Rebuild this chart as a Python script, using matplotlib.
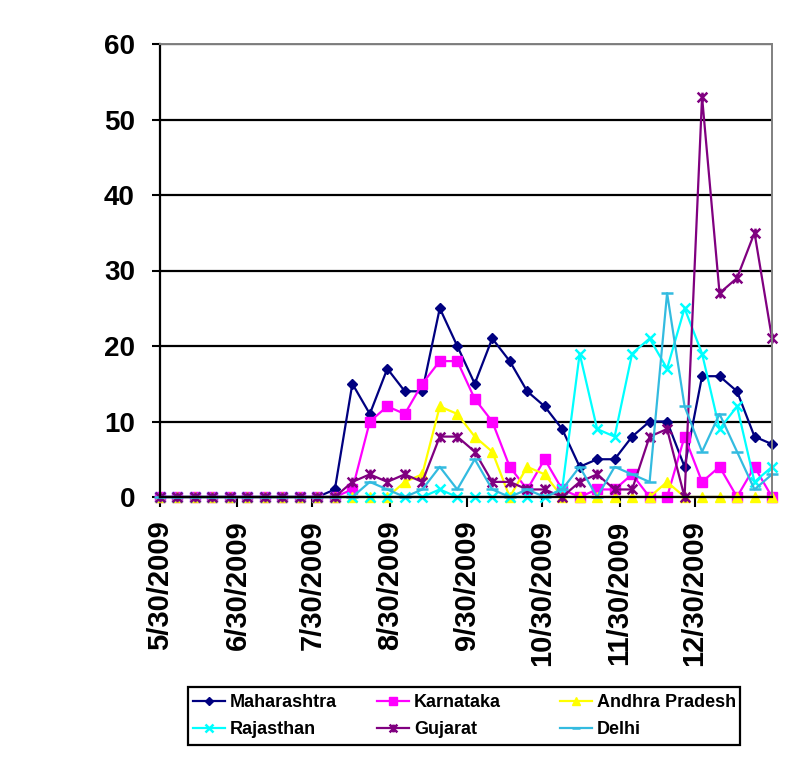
import datetime as dt
import matplotlib
matplotlib.use("Agg")
import matplotlib.pyplot as plt
from matplotlib.path import Path
from matplotlib.patches import Rectangle
import pandas as pd

plt.rcParams['font.family'] = ['Liberation Sans', 'DejaVu Sans']

# weekly reporting dates
dates = pd.date_range("2009-05-30", periods=36, freq="7D")

maharashtra = [0] * 10 + [1, 15, 11, 17, 14, 14, 25, 20, 15, 21, 18, 14, 12, 9, 4, 5, 5, 8, 10, 10, 4, 16, 16, 14, 8, 7]
karnataka = [0] * 10 + [0, 1, 10, 12, 11, 15, 18, 18, 13, 10, 4, 1, 5, 1, 0, 1, 1, 3, 0, 0, 8, 2, 4, 0, 4, 0]
andhra = [0] * 10 + [0, 0, 0, 0, 2, 3, 12, 11, 8, 6, 0, 4, 3, 0, 0, 0, 0, 0, 0, 2, 0, 0, 0, 0, 0, 0]
rajasthan = [0] * 10 + [0, 0, 0, 0, 0, 0, 1, 0, 0, 0, 0, 0, 0, 1, 19, 9, 8, 19, 21, 17, 25, 19, 9, 12, 2, 4]
gujarat = [0] * 10 + [0, 2, 3, 2, 3, 2, 8, 8, 6, 2, 2, 1, 1, 0, 2, 3, 1, 1, 8, 9, 0, 53, 27, 29, 35, 21]
delhi = [0] * 10 + [0, 0, 2, 1, 0, 1, 4, 1, 5, 1, 0, 1, 0, 1, 4, 0, 4, 3, 2, 27, 12, 6, 11, 6, 1, 3]

tick_dates = [dt.datetime(2009, m, 30) for m in range(5, 13)]
tick_labels = [f"{d.month}/{d.day}/{d.year}" for d in tick_dates]

# Excel style "star" marker: an x with a vertical bar through it
star = Path([(-1, -1), (1, 1), (-1, 1), (1, -1), (0, -1), (0, 1)],
            [Path.MOVETO, Path.LINETO, Path.MOVETO, Path.LINETO, Path.MOVETO, Path.LINETO])

series = [
    ("Maharashtra", maharashtra, "#000080", "D", 5.5),
    ("Karnataka", karnataka, "#FF00FF", "s", 6.5),
    ("Andhra Pradesh", andhra, "#FFFF00", "^", 7),
    ("Rajasthan", rajasthan, "#00FFFF", "x", 7),
    ("Gujarat", gujarat, "#800080", star, 7),
    ("Delhi", delhi, "#33BBE0", "_", 8),
]

W, H = 791, 777
fig = plt.figure(figsize=(W / 100, H / 100), dpi=100)
ax = fig.add_axes([160 / W, 1 - 497 / H, 612 / W, 453 / H])

lines = {}
for name, vals, col, mk, ms in series:
    thin = isinstance(mk, str) and mk in ("D", "s", "^")
    ln, = ax.plot(dates, vals, color=col, marker=mk, markersize=ms, linewidth=1.6,
                  markeredgewidth=1 if thin else 1.8,
                  markeredgecolor=col, markerfacecolor=col, label=name, clip_on=False)
    lines[name] = ln

ax.set_xlim(dt.datetime(2009, 5, 30), dt.datetime(2010, 1, 30))
ax.set_ylim(0, 60)
ax.set_yticks(range(0, 61, 10))
ax.set_xticks(tick_dates)
ax.set_xticklabels(tick_labels, rotation=90, fontsize=21, fontweight="bold")
for lab in ax.get_yticklabels():
    lab.set_fontsize(20)
    lab.set_fontweight("bold")

ax.yaxis.grid(True, color="black", linewidth=1.6)
ax.set_axisbelow(True)
ax.tick_params(axis="y", direction="out", length=6, width=1.5, pad=12)
ax.tick_params(axis="x", direction="out", length=7, width=1.5, pad=10)

ax.spines["left"].set_color("black")
ax.spines["left"].set_linewidth(1.6)
ax.spines["bottom"].set_color("black")
ax.spines["bottom"].set_linewidth(1.6)
ax.spines["top"].set_color("#808080")
ax.spines["top"].set_linewidth(1.4)
ax.spines["right"].set_color("#808080")
ax.spines["right"].set_linewidth(1.4)

# legend: black box with three fixed-width columns, like Excel
fig.patches.append(Rectangle((188 / W, 1 - 745 / H), 552 / W, 58 / H,
                             transform=fig.transFigure, fill=False,
                             edgecolor="black", linewidth=1.6))
columns = [["Maharashtra", "Rajasthan"], ["Karnataka", "Gujarat"], ["Andhra Pradesh", "Delhi"]]
col_x = [193, 377, 560]
for names, x0 in zip(columns, col_x):
    leg = fig.legend([lines[n] for n in names], names, loc="upper left",
                     bbox_to_anchor=(x0 / W, 1 - 694 / H), frameon=False,
                     prop={"size": 13, "weight": "bold"}, handlelength=1.75,
                     handletextpad=0.3, borderpad=0, borderaxespad=0,
                     labelspacing=0.57, markerscale=0.8)

fig.savefig("out.png", dpi=100)
